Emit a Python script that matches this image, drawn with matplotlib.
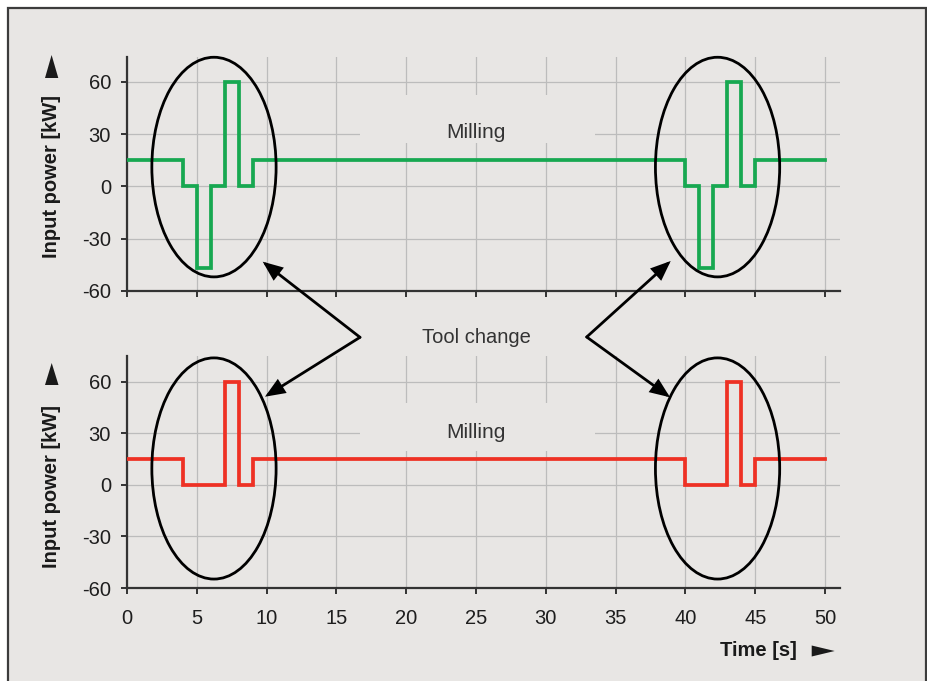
import matplotlib
matplotlib.use("Agg")
import matplotlib.pyplot as plt
from matplotlib.patches import Ellipse, Rectangle, Polygon, FancyArrowPatch

# ---------------- data ----------------
time_top = [0, 4, 5, 6, 7, 8, 9, 40, 41, 42, 43, 44, 45, 50]
power_top = [15, 0, -47, 0, 60, 0, 15, 0, -47, 0, 60, 0, 15, 15]
time_bot = [0, 4, 7, 8, 9, 40, 43, 44, 45, 50]
power_bot = [15, 0, 60, 0, 15, 0, 60, 0, 15, 15]
x_ticks = [0, 5, 10, 15, 20, 25, 30, 35, 40, 45, 50]
y_ticks = [-60, -30, 0, 30, 60]
ylabel = "Input power [kW]"
xlabel = "Time [s]"
label_milling = "Milling"
label_tool = "Tool change"

W, H = 928, 681
BG = "#e8e6e4"
GREEN = "#17a851"
RED = "#ee3124"
FONT = ["Liberation Sans", "DejaVu Sans"]
plt.rcParams["font.family"] = FONT
plt.rcParams["axes.unicode_minus"] = False

fig = plt.figure(figsize=(W / 100, H / 100), dpi=100)
fig.patch.set_facecolor("white")


def fx(x):
    return x / W


def fy(y):
    return 1 - y / H


def P(x, y):
    return (fx(x), fy(y))


# outer panel frame
fig.add_artist(Rectangle(P(8.5, 700), fx(925.5) - fx(8.5), fy(7.5) - fy(700),
                         transform=fig.transFigure, facecolor=BG,
                         edgecolor="#3c3c3c", lw=1.6, zorder=-10))


def make_axes(top_px, bot_px, ytop):
    ax = fig.add_axes([fx(127), fy(bot_px), fx(840) - fx(127), fy(top_px) - fy(bot_px)])
    ax.set_facecolor("none")
    ax.set_xlim(0, 51.07)
    ax.set_ylim(-60, ytop)
    ax.set_xticks(x_ticks)
    ax.set_yticks(y_ticks)
    ax.set_axisbelow(True)
    ax.grid(True, color="#bcbcbc", lw=0.9)
    for s in ["top", "right"]:
        ax.spines[s].set_visible(False)
    for s in ["left", "bottom"]:
        ax.spines[s].set_color("#333333")
        ax.spines[s].set_linewidth(1.6)
    ax.tick_params(direction="out", length=4.5, width=1.4, colors="#333333",
                   labelsize=14.5, labelcolor="#1e1e1e")
    ax.tick_params(axis="y", pad=7)
    ax.tick_params(axis="x", pad=10.5)
    return ax


ax1 = make_axes(57, 291, 74.35)
ax2 = make_axes(356, 588, 74.9)
ax1.tick_params(axis="x", labelbottom=False)

# lines
ax1.step(time_top, power_top, where="post", color=GREEN, lw=2.7, zorder=3,
         solid_joinstyle="miter")
ax2.step(time_bot, power_bot, where="post", color=RED, lw=2.7, zorder=3,
         solid_joinstyle="miter")

# Milling labels with background gaps
ax1.add_patch(Rectangle((16.7, 25), 16.8, 27.5, facecolor=BG, edgecolor="none", zorder=0.8))
ax1.text(25, 31, label_milling, ha="center", va="center", fontsize=15, color="#333333", zorder=4)
ax2.add_patch(Rectangle((16.7, 19.7), 16.8, 27.9, facecolor=BG, edgecolor="none", zorder=0.8))
ax2.text(25, 30.5, label_milling, ha="center", va="center", fontsize=15, color="#333333", zorder=4)

# ellipses
for cx in [6.23, 42.3]:
    ax1.add_patch(Ellipse((cx, 11.15), 8.9, 126.1, fill=False, edgecolor="black", lw=2.0, zorder=4, clip_on=False))
    ax2.add_patch(Ellipse((cx, 9.5), 8.9, 128.6, fill=False, edgecolor="black", lw=2.0, zorder=4, clip_on=False))

# y labels and arrows
for cy in [177, 486]:
    fig.text(fx(52), fy(cy), ylabel, rotation=90, ha="center", va="center",
             fontsize=14.5, fontweight="bold", color="#1a1a1a")
fig.add_artist(Polygon([P(45, 78), P(58.3, 78), P(51.6, 55)], closed=True,
                       transform=fig.transFigure, facecolor="#1a1a1a", edgecolor="none"))
fig.add_artist(Polygon([P(45, 385), P(58.5, 385), P(51.7, 363)], closed=True,
                       transform=fig.transFigure, facecolor="#1a1a1a", edgecolor="none"))

# x label
fig.text(fx(797), fy(651), xlabel, ha="right", va="center", fontsize=14.5,
         fontweight="bold", color="#1a1a1a")
fig.add_artist(Polygon([P(811.7, 645.5), P(811.7, 656.5), P(834.7, 651)], closed=True,
                       transform=fig.transFigure, facecolor="#1a1a1a", edgecolor="none"))

# Tool change text and arrows
fig.text(fx(476), fy(337), label_tool, ha="center", va="center", fontsize=14.5, color="#333333")
arrows = [((360, 337.3), (262.7, 261.7)), ((360, 337.3), (265, 396.7)),
          ((586.7, 337), (670.7, 261)), ((586.7, 337), (670, 397.3))]
for (x0, y0), (x1, y1) in arrows:
    fig.add_artist(FancyArrowPatch(P(x0, y0), P(x1, y1), transform=fig.transFigure,
                                   arrowstyle="-|>,head_length=11,head_width=4.5",
                                   color="black", lw=2.0, shrinkA=0, shrinkB=0,
                                   mutation_scale=1, joinstyle="miter", zorder=5))

fig.savefig("out.png", dpi=100, facecolor=fig.get_facecolor())
